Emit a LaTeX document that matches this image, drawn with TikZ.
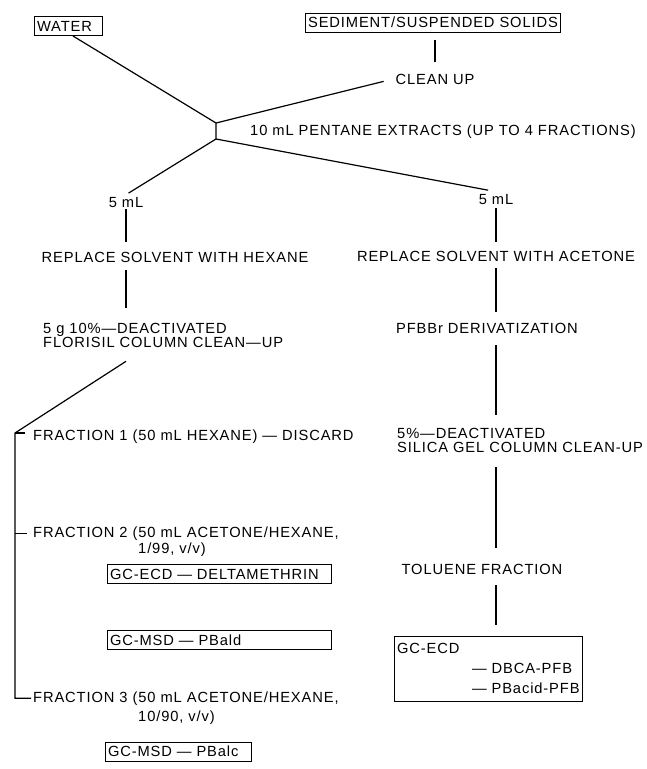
\documentclass[tikz,border=0pt]{standalone}
\usepackage{fontspec}
\setmainfont[LetterSpace=6]{Liberation Sans}
\usetikzlibrary{calc}

\begin{document}
\begin{tikzpicture}[x=1pt, y=-1pt, font=\fontsize{14.7}{14.5}\selectfont,
  every node/.style={inner sep=2pt},
  boxed/.style={draw, line width=1pt, inner sep=3pt, align=left, minimum height=19pt},
  link/.style={line width=1.2pt}]
\useasboundingbox (0,0) rectangle (646,769);
\node[boxed, text width=62pt] (water) at (68,26) {WATER};
\node[boxed, minimum width=255pt] (sediment) at (433,22.5) {SEDIMENT/SUSPENDED SOLIDS};
\node[anchor=base] (cleanup) at (435,84) {CLEAN UP};
\node[anchor=base west] (pentane) at (248,135) {10 mL PENTANE EXTRACTS (UP TO 4 FRACTIONS)};
\coordinate (jt) at (216,123);
\coordinate (jb) at (216,139);
\node[anchor=base] (ml1) at (126,207) {5 mL};
\node[anchor=base] (ml2) at (496,204) {5 mL};
\node[anchor=base] (hexane) at (175,262) {REPLACE SOLVENT WITH HEXANE};
\node[anchor=north west, align=left] (florisil) at (41,321) {5 g 10\%—DEACTIVATED\\FLORISIL COLUMN CLEAN—UP};
\node[anchor=base west] (frac1) at (31,440) {FRACTION 1 (50 mL HEXANE) — DISCARD};
\node[anchor=base west] (frac2) at (31,537) {FRACTION 2 (50 mL ACETONE/HEXANE,};
\node[anchor=base west] (frac2v) at (136,553) {1/99, v/v)};
\node[boxed, text width=218pt] (delta) at (219,574) {GC-ECD — DELTAMETHRIN};
\node[boxed, text width=218pt] (pbald) at (219,640) {GC-MSD — PBald};
\node[anchor=base west] (frac3) at (31,702) {FRACTION 3 (50 mL ACETONE/HEXANE,};
\node[anchor=base west] (frac3v) at (136,721) {10/90, v/v)};
\node[boxed, text width=140pt] (pbalc) at (178,751.5) {GC-MSD — PBalc};
\node[anchor=base] (acetone) at (496,261) {REPLACE SOLVENT WITH ACETONE};
\node[anchor=base] (pfbbr) at (487,333) {PFBBr DERIVATIZATION};
\node[anchor=north west, align=left] (silica) at (395,426) {5\%—DEACTIVATED\\SILICA GEL COLUMN CLEAN-UP};
\node[anchor=base] (toluene) at (482,574) {TOLUENE FRACTION};
\node[boxed, text width=182pt, minimum height=65pt, align=left, font=\fontsize{14.7}{20}\selectfont] (gcecd) at (488,668.5)
  {GC-ECD\\\hspace*{75pt}— DBCA-PFB\\\hspace*{75pt}— PBacid-PFB};
\coordinate (c1) at (15,433);
\coordinate (c3) at (c1 |- frac3.west);

\draw[link, line join=miter] ($(water.south)+(5,0)$) -- (jt) -- (jb);
\draw[link, shorten >=10pt] (jt) -- (cleanup.west);
\draw[link, shorten <=7pt, shorten >=10pt] (sediment.south -| cleanup) -- (cleanup.north);
\draw[link, shorten >=3pt] (jb) -- (ml1.north);
\draw[link, shorten >=8pt] (jb) -- (ml2.north);
\draw[link, shorten >=8pt] (ml1.south) -- (ml1.south |- hexane.north);
\draw[link, shorten <=6pt, shorten >=13pt] (hexane.south -| ml1) -- (florisil.north -| ml1);
\draw[link] ($(florisil.south -| ml1)+(0,11)$) -- (c1) -- (c3) -- (c3 -| frac3.west);
\draw[link, shorten >=6pt] (c1) -- (c1 -| frac1.west);
\draw[link, shorten >=4pt] (frac2.west -| c1) -- (frac2.west);
\draw[link, shorten <=2pt, shorten >=7pt] (ml2.south) -- (ml2.south |- acetone.north);
\draw[link, shorten <=5pt, shorten >=9pt] (acetone.south -| ml2) -- (pfbbr.north -| ml2);
\draw[link, shorten <=10pt, shorten >=11pt] (pfbbr.south -| ml2) -- (silica.north -| ml2);
\draw[link, shorten <=12pt, shorten >=14pt] (silica.south -| ml2) -- (toluene.north -| ml2);
\draw[link, shorten <=9pt, shorten >=11pt] (toluene.south -| ml2) -- (gcecd.north -| ml2);
\end{tikzpicture}
\end{document}
